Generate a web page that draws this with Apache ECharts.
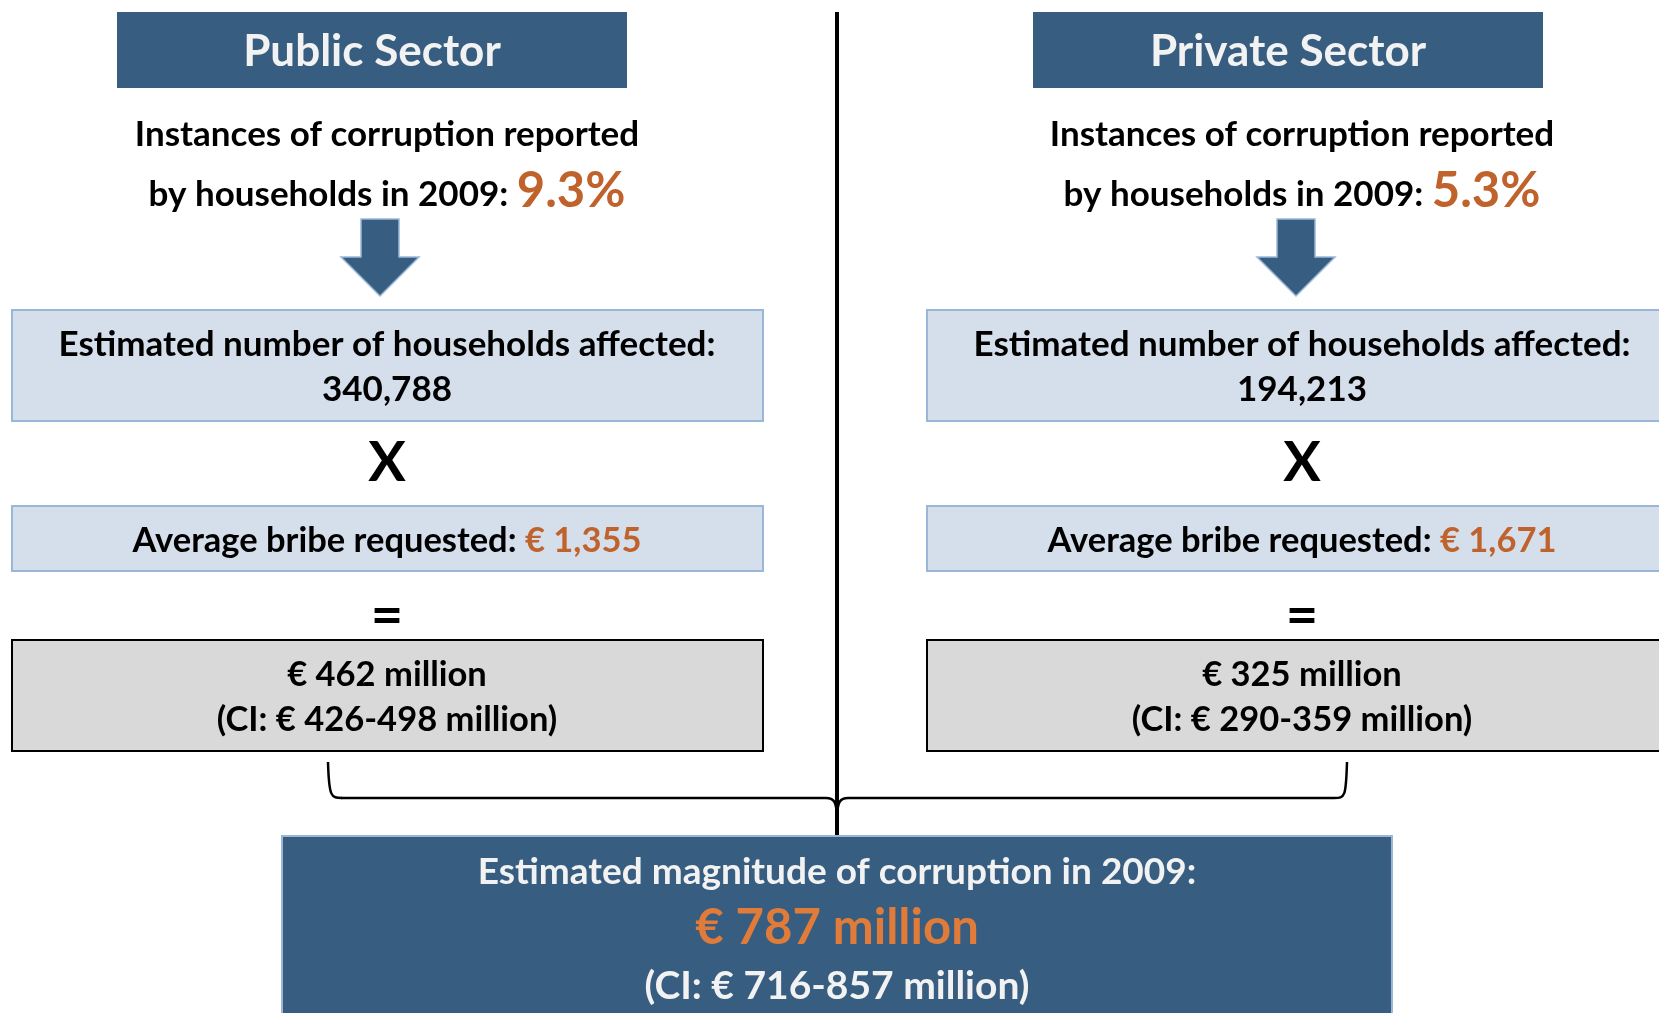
<!DOCTYPE html>
<html>
<head>
<meta charset="utf-8">
<script src="https://cdn.jsdelivr.net/npm/echarts@6/dist/echarts.min.js"></script>
<style>
html,body{margin:0;padding:0;background:#fff;}
#main{width:1659px;height:1013px;}
</style>
</head>
<body>
<div id="main"></div>
<script>
// ---- data ----
const sectors = ['Public Sector', 'Private Sector'];
const reportedPct = [9.3, 5.3];
const households = [340788, 194213];
const avgBribe = [1355, 1671];
const totalMillion = [462, 325];
const ciLow = [426, 290];
const ciHigh = [498, 359];
const surveyYear = 2009;
const overallTotal = 787;
const overallCI = [716, 857];

// ---- styles ----
const FONT = 'Lato, "Open Sans", sans-serif';
const DARK = '#375E80';
const LIGHT = '#D5DFEB';
const LIGHT_STROKE = '#9AB7D8';
const ORANGE = '#C0622B';
const ORANGE2 = '#E07B39';
const fmt = v => v.toLocaleString('en-US');

const chart = echarts.init(document.getElementById('main'), null, {renderer: 'canvas'});

function txt(x, y, text, size, color, extra) {
  return {
    type: 'text', x: x, y: y, z: 10,
    style: Object.assign({
      text: text, fill: color || '#000', fontSize: size, fontWeight: 'bold',
      fontFamily: FONT, align: 'center', verticalAlign: 'middle'
    }, extra || {})
  };
}

const cols = [
  {cx: 387, hx: 117, tx: 372, ax: 380, bx: 12},
  {cx: 1302, hx: 1033, tx: 1288, ax: 1296, bx: 927}
];

const els = [];

// vertical divider
els.push({type: 'line', z: 5, shape: {x1: 837, y1: 12, x2: 837, y2: 836}, style: {stroke: '#000', lineWidth: 4}});

cols.forEach((c, i) => {
  // header
  els.push({type: 'rect', shape: {x: c.hx, y: 12, width: 510, height: 76}, style: {fill: DARK}});
  els.push(txt(c.tx, 52, sectors[i], 44, '#F2F2F2'));
  // instances text
  els.push(txt(c.cx, 135, 'Instances of corruption reported', 35, '#000'));
  els.push({
    type: 'text', x: c.cx, y: 191, z: 10,
    style: {
      text: '{a|by households in ' + surveyYear + ': }{b|' + reportedPct[i].toFixed(1) + '%}',
      align: 'center', verticalAlign: 'middle',
      rich: {
        a: {fontSize: 35, fontWeight: 'bold', fontFamily: FONT, fill: '#000', verticalAlign: 'bottom', padding: [0, 0, 3, 0]},
        b: {fontSize: 49, fontWeight: 'bold', fontFamily: FONT, fill: ORANGE, verticalAlign: 'bottom'}
      }
    }
  });
  // arrow
  const ax = c.ax;
  els.push({
    type: 'polygon',
    shape: {points: [[ax - 19, 219], [ax + 19, 219], [ax + 19, 257], [ax + 39, 257], [ax, 296], [ax - 39, 257], [ax - 19, 257]]},
    style: {fill: DARK, stroke: LIGHT_STROKE, lineWidth: 1.5}
  });
  // households box
  els.push({type: 'rect', shape: {x: c.bx, y: 310, width: 751, height: 111}, style: {fill: LIGHT, stroke: LIGHT_STROKE, lineWidth: 2}});
  els.push(txt(c.cx, 345, 'Estimated number of households affected:', 35, '#000'));
  els.push(txt(c.cx, 390, fmt(households[i]), 35, '#000'));
  // X
  els.push(txt(c.cx, 463, 'X', 56, '#000'));
  // bribe box
  els.push({type: 'rect', shape: {x: c.bx, y: 506, width: 751, height: 65}, style: {fill: LIGHT, stroke: LIGHT_STROKE, lineWidth: 2}});
  els.push({
    type: 'text', x: c.cx, y: 541, z: 10,
    style: {
      text: '{a|Average bribe requested: }{b|\u20AC ' + fmt(avgBribe[i]) + '}',
      align: 'center', verticalAlign: 'middle',
      rich: {
        a: {fontSize: 34.5, fontWeight: 'bold', fontFamily: FONT, fill: '#000'},
        b: {fontSize: 34.5, fontWeight: 'bold', fontFamily: FONT, fill: ORANGE}
      }
    }
  });
  // =
  els.push(txt(c.cx, 616, '=', 56, '#000'));
  // result box
  els.push({type: 'rect', shape: {x: c.bx, y: 640, width: 751, height: 111}, style: {fill: '#D9D9D9', stroke: '#000', lineWidth: 2}});
  els.push(txt(c.cx, 675, '\u20AC ' + totalMillion[i] + ' million', 34.5, '#000'));
  els.push(txt(c.cx, 720, '(CI: \u20AC ' + ciLow[i] + '-' + ciHigh[i] + ' million)', 34.5, '#000'));
});

// brace
const bs = {stroke: '#000', lineWidth: 2.5, fill: 'none'};
els.push({type: 'bezierCurve', shape: {x1: 328, y1: 762, cpx1: 329, cpy1: 797, cpx2: 331, cpy2: 798, x2: 342, y2: 798}, style: bs});
els.push({type: 'line', shape: {x1: 341, y1: 798, x2: 826, y2: 798}, style: bs});
els.push({type: 'bezierCurve', shape: {x1: 826, y1: 798, cpx1: 834, cpy1: 798, cpx2: 836, cpy2: 802, x2: 837, y2: 814}, style: bs});
els.push({type: 'bezierCurve', shape: {x1: 848, y1: 798, cpx1: 840, cpy1: 798, cpx2: 838, cpy2: 802, x2: 837, y2: 814}, style: bs});
els.push({type: 'line', shape: {x1: 848, y1: 798, x2: 1334, y2: 798}, style: bs});
els.push({type: 'bezierCurve', shape: {x1: 1347, y1: 762, cpx1: 1346, cpy1: 797, cpx2: 1345, cpy2: 798, x2: 1334, y2: 798}, style: bs});

// bottom box
els.push({type: 'rect', z: 6, shape: {x: 282, y: 836, width: 1110, height: 210}, style: {fill: DARK, stroke: LIGHT_STROKE, lineWidth: 2}});
els.push(txt(837, 872, 'Estimated magnitude of corruption in ' + surveyYear + ':', 37, '#F2F2F2'));
els.push(txt(837, 928, '\u20AC ' + overallTotal + ' million', 49, ORANGE2));
els.push(txt(837, 986, '(CI: \u20AC ' + overallCI[0] + '-' + overallCI[1] + ' million)', 39, '#F2F2F2'));

chart.setOption({
  animation: false,
  backgroundColor: '#fff',
  graphic: {elements: els}
});
</script>
</body>
</html>
